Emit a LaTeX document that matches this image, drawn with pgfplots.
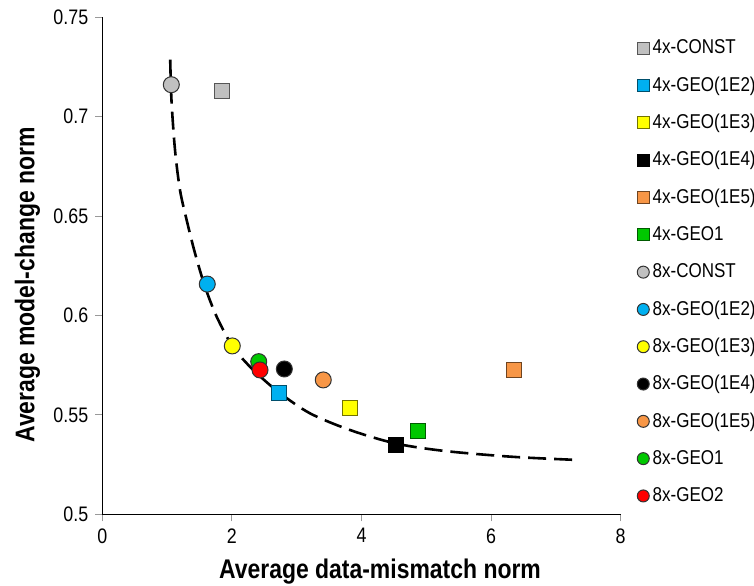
\documentclass[border=0pt]{standalone}
\usepackage{fontspec}
\setmainfont{Liberation Sans}[FakeStretch=0.85]
\usepackage{pgfplots}
\pgfplotsset{compat=1.18}
\definecolor{cgray}{HTML}{C0C0C0}
\definecolor{cblue}{HTML}{00B0F0}
\definecolor{cyellow}{HTML}{FFFF00}
\definecolor{corange}{HTML}{F79646}
\definecolor{cgreen}{HTML}{00C800}
\definecolor{cred}{HTML}{FF0000}
\pgfplotsset{
  sq/.style={only marks, mark=square*, mark size=3.8pt, mark options={fill=#1, draw=#1!45!black, line width=0.5pt}},
  ci/.style={only marks, mark=*, mark size=4pt, mark options={fill=#1, draw=black!80, line width=0.5pt}},
}
\begin{document}
\begin{tikzpicture}
\useasboundingbox (0,0) rectangle (377pt,292.5pt);
\begin{axis}[
  at={(51.15pt,35.35pt)}, anchor=south west,
  scale only axis, width=259.2pt, height=248.5pt,
  xmin=0, xmax=8, ymin=0.5, ymax=0.75,
  xtick={0,2,4,6,8}, ytick={0.5,0.55,0.6,0.65,0.7,0.75},
  yticklabels={0.5,0.55,0.6,0.65,0.7,0.75},
  axis x line*=bottom, axis y line*=left,
  axis line style={black, line width=0.65pt, -},
  tick align=outside, major tick length=3.5pt,
  tick style={black!40, line width=0.5pt},
  ticklabel style={font=\fontsize{10.5}{12}\selectfont},
  /pgf/number format/assume math mode=true,
  xlabel={Average data-mismatch norm},
  ylabel={Average model-change norm},
  label style={font=\bfseries\fontsize{13.5}{16}\selectfont},
  xlabel style={at={(axis description cs:0.5357,-0.116)}, anchor=center},
  ylabel style={at={(axis description cs:-0.1443,0.4614)}, anchor=center},
  legend cell align=left,
  legend style={at={(axis description cs:1.032,0.9751)}, anchor=north west,
    draw=none, fill=none, inner sep=0pt, outer sep=0pt, row sep=0pt, column sep=1.7pt,
    font=\fontsize{10}{12}\selectfont,
    nodes={inner sep=0pt, minimum height=18.65pt}},
  legend image code/.code={\draw[#1, mark size=3pt] plot coordinates {(0pt,0pt)};},
]
\addplot[sq=cgray] coordinates {(1.843,0.7131)};
\addlegendentry{4x-CONST}
\addplot[sq=cblue] coordinates {(2.731,0.5612)};
\addlegendentry{4x-GEO(1E2)}
\addplot[sq=cyellow] coordinates {(3.823,0.5533)};
\addlegendentry{4x-GEO(1E3)}
\addplot[only marks, mark=square*, mark size=3.8pt, mark options={fill=black, draw=black, line width=0.5pt}] coordinates {(4.532,0.5349)};
\addlegendentry{4x-GEO(1E4)}
\addplot[sq=corange] coordinates {(6.349,0.5726)};
\addlegendentry{4x-GEO(1E5)}
\addplot[sq=cgreen] coordinates {(4.872,0.5419)};
\addlegendentry{4x-GEO1}
\addplot[ci=cgray] coordinates {(1.065,0.7161)};
\addlegendentry{8x-CONST}
\addplot[ci=cblue] coordinates {(1.620,0.6158)};
\addlegendentry{8x-GEO(1E2)}
\addplot[ci=cyellow] coordinates {(2.006,0.5847)};
\addlegendentry{8x-GEO(1E3)}
\addplot[ci=black] coordinates {(2.809,0.5731)};
\addlegendentry{8x-GEO(1E4)}
\addplot[ci=corange] coordinates {(3.410,0.5676)};
\addlegendentry{8x-GEO(1E5)}
\addplot[ci=cgreen] coordinates {(2.414,0.5768)};
\addlegendentry{8x-GEO1}
\addplot[ci=cred] coordinates {(2.434,0.5726)};
\addlegendentry{8x-GEO2}
\addplot[forget plot, smooth, black, line width=1.3pt, dash pattern=on 9pt off 4pt] coordinates {
 (1.048,0.7287) (1.068,0.708) (1.122,0.6833) (1.199,0.6631) (1.302,0.6480)
 (1.431,0.6313) (1.585,0.6145) (1.765,0.5994) (2.012,0.5843) (2.253,0.5751)
 (2.383,0.5709) (2.731,0.5612) (3.205,0.5508) (3.823,0.5424) (4.532,0.5356)
 (5.300,0.5318) (6.343,0.5289) (7.361,0.5273)};
\end{axis}
\end{tikzpicture}
\end{document}
